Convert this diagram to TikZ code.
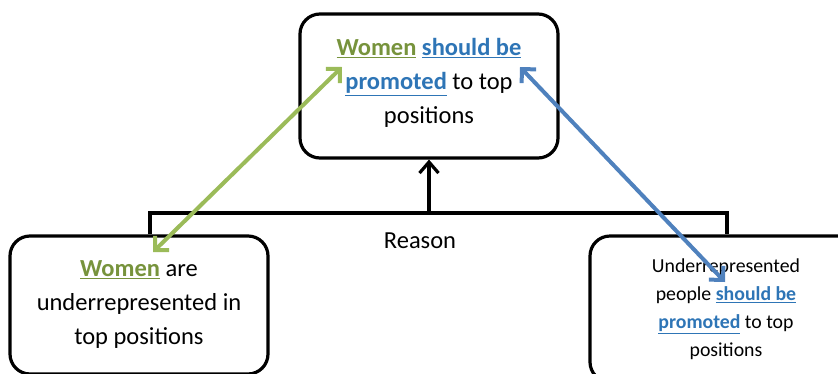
\documentclass[tikz,border=0pt]{standalone}
\usepackage{fontspec}
\setmainfont{Carlito}
\usepackage{tikz}
\usetikzlibrary{arrows.meta}
\definecolor{wgreen}{HTML}{77933C}
\definecolor{agreen}{HTML}{9BBB59}
\definecolor{wblue}{HTML}{2E75B6}
\definecolor{ablue}{HTML}{4F81BD}
\newcommand{\grn}[1]{{\color{wgreen}\underline{\textbf{#1}}}}
\newcommand{\blu}[1]{{\color{wblue}\underline{\textbf{#1}}}}

\begin{document}
\begin{tikzpicture}[x=1pt,y=-1pt,
  box/.style={draw,line width=3.2pt,rounded corners=20pt,align=center,inner sep=0pt},
  big/.style={font=\fontsize{24.5}{34}\selectfont},
  small/.style={font=\fontsize{19.8}{28}\selectfont},
  link/.style={line width=4pt,{Straight Barb[length=10pt,width=20pt]}-{Straight Barb[length=10pt,width=20pt]}}]
  \clip (0,0) rectangle (838,373);
  \node[box,big,minimum width=258pt,minimum height=144pt] (claim) at (429,86)
    {\grn{Women} \blu{should be}\\ \blu{promoted} to top\\ positions\vspace{6pt}};
  \node[box,big,minimum width=258pt,minimum height=138pt] (women) at (139,305)
    {\grn{Women} are\\ underrepresented in\\ top positions};
  \node[box,small,minimum width=272pt,minimum height=146pt] (people) at (726,309)
    {Underrepresented\\ people \blu{should be}\\ \blu{promoted} to top\\ positions};
  \node[big] (reason) at (420,241) {Reason};
  \coordinate (brace) at (429,213);
  \draw[line width=3.2pt] (women.north -| 150,0) |- (brace) -| (people.north -| 727,0);
  \draw[line width=3.2pt,-{Straight Barb[length=11pt,width=19pt]}] (brace) -- (claim.south);
  \coordinate (gtop) at (342,67);
  \coordinate (gbot) at (153,252);
  \coordinate (btop) at (520,67);
  \coordinate (bbot) at (725,282);
  \draw[link,agreen] (gtop) -- (gbot);
  \draw[link,ablue] (btop) -- (bbot);
\end{tikzpicture}
\end{document}
